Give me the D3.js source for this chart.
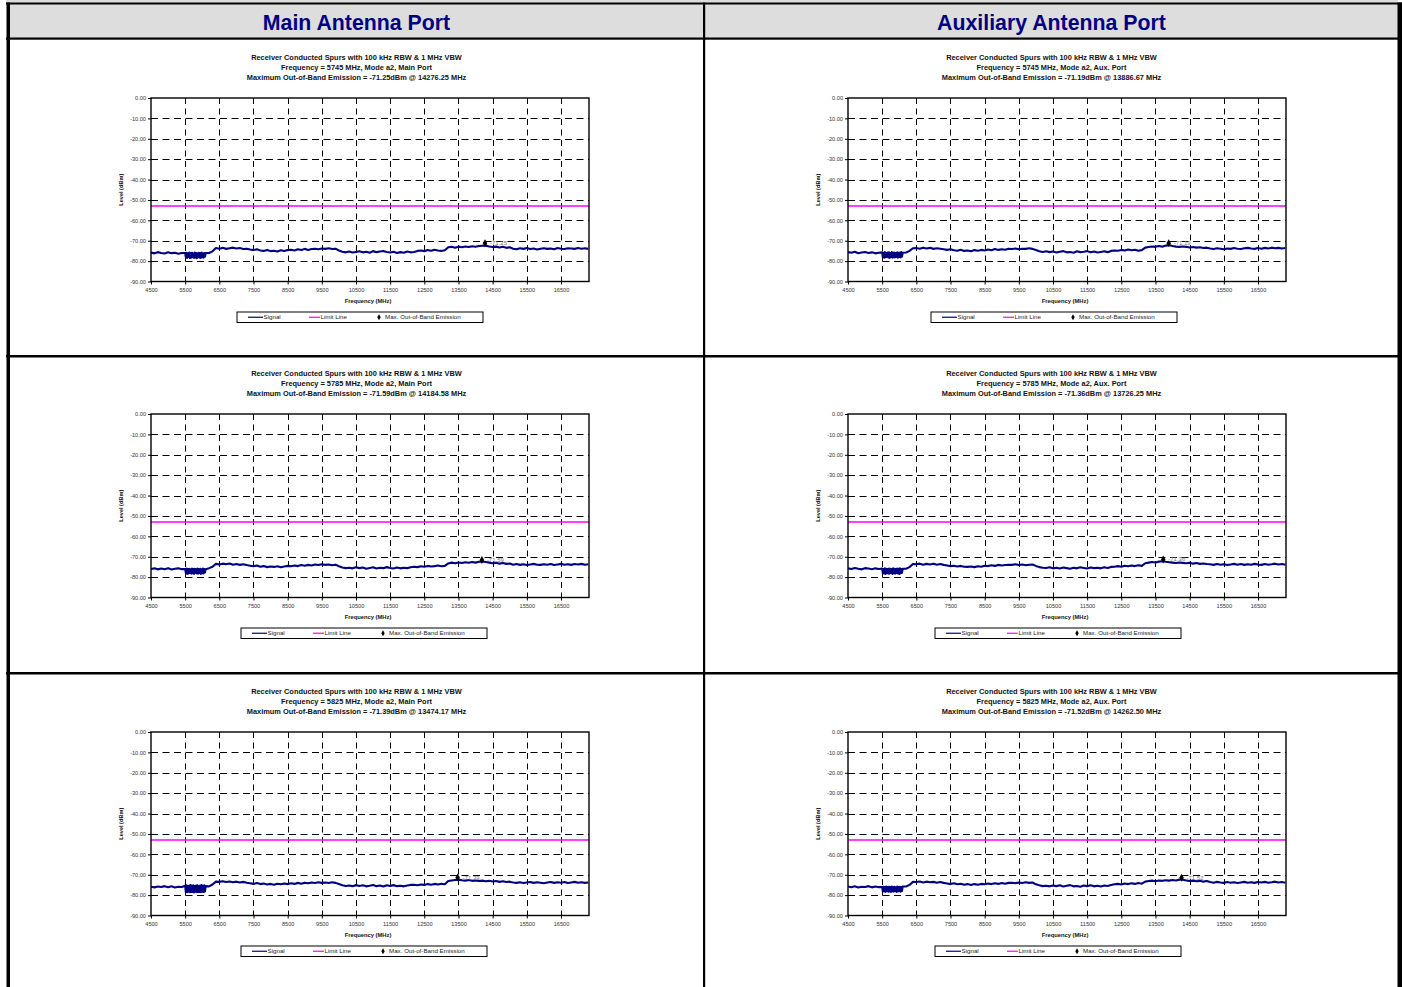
<!DOCTYPE html>
<html>
<head>
<meta charset="utf-8">
<script src="https://cdn.jsdelivr.net/npm/d3@7"></script>
<style>
  html, body { margin: 0; padding: 0; background: #ffffff; }
  svg { display: block; font-family: "Liberation Sans", Arial, sans-serif; }
</style>
</head>
<body>
<svg id="chart" width="1402" height="987"></svg>
<script>
// ---------------- DATA ----------------
const columnHeaders = ["Main Antenna Port", "Auxiliary Antenna Port"];
const channelFreqs = [5745, 5785, 5825];          // rows
const portNames = ["Main Port", "Aux. Port"];     // columns
const chartTitle = "Receiver Conducted Spurs with 100 kHz RBW & 1 MHz VBW";
const modeName = "a2";
const maxEmissionFreqs = [[14276.25, 13886.67], [14184.58, 13726.25], [13474.17, 14262.50]];
const maxEmissionLevels = [[-71.25, -71.19], [-71.59, -71.36], [-71.39, -71.52]];
const limitLevel = -53;
const yTicks = [0, -10, -20, -30, -40, -50, -60, -70, -80, -90];
const xTicks = [4500, 5500, 6500, 7500, 8500, 9500, 10500, 11500, 12500, 13500, 14500, 15500, 16500];
const xDomain = [4500, 17320];
const yDomain = [-90, 0];
const xAxisTitle = "Frequency (MHz)";
const yAxisTitle = "Level (dBm)";
const legendLabels = ["Signal", "Limit Line", "Max. Out-of-Band Emission"];
// sweep frequency grid (MHz): 100 MHz steps, 20 MHz steps in the 5500-6100 MHz band
const lowSweep = d3.range(4500, 5500, 100);
const bandSweep = d3.range(5500, 6120, 20);
const highSweep = d3.range(6200, 17301, 100);
const frequencies = lowSweep.concat(bandSweep, highSweep);

const signalMain5745 = [
  -75.8,-76.2,-75.6,-76.0,-76.3,-75.7,-76.1,-75.9,-76.4,-76.0,
  -76.0,-78.2,-75.9,-78.4,-76.2,-78.0,-75.8,-78.5,-76.1,-78.3,-75.9,-78.1,-76.3,-78.4,-75.8,-78.2,-76.0,-78.6,-76.2,-78.0,-75.9,-78.3,-76.1,-78.4,-75.8,-78.1,-76.2,-78.3,-76.0,-77.8,-76.1,
  -76.0,-75.2,-73.6,
  -73.9,-73.5,-74.0,-73.7,-73.4,-73.8,-73.6,-74.1,-73.9,
  -74.3,-74.6,-74.2,-74.8,-75.0,-74.5,-75.1,
  -74.9,-75.3,-74.7,-75.0,-74.6,
  -74.4,-74.8,-74.2,-74.6,-74.0,-74.5,-74.1,
  -73.9,-74.2,-73.8,-74.0,-73.7,-74.1,-73.9,
  -74.8,-75.4,-75.7,
  -75.3,-75.8,-75.5,-75.2,-75.7,-75.4,-75.9,-75.1,-75.6,-75.3,-75.0,-75.5,-75.8,-75.4,-76.0,-75.6,-75.9,-75.3,-75.7,-75.5,-75.0,
  -74.8,-75.1,-74.6,-74.9,-74.4,-74.8,-75.0,-74.7,
  -73.2,
  -73.0,-73.4,-72.9,-73.2,-72.8,-73.1,-72.7,-73.0,-72.6,-72.5,
  -72.4,
  -72.8,-73.1,-72.9,-73.3,-73.0,-73.5,-73.2,
  -73.9,-74.2,-73.7,-74.0,-73.6,-74.1,-73.8,-74.3,-73.9,-73.7,-74.0,-73.8,-74.2,-73.6,-73.9,-74.1,-73.7,-73.8,-74.0,-73.6,-73.9,-73.7,-74.0
];
const signalAux5745 = [
  -75.6,-75.9,-75.4,-76.1,-75.8,-75.5,-76.0,-75.7,-76.2,-75.9,
  -75.7,-78.0,-75.9,-78.3,-75.6,-78.1,-76.0,-77.9,-75.8,-78.2,-75.7,-78.4,-76.0,-78.0,-75.6,-78.3,-75.9,-78.1,-75.8,-78.2,-76.0,-77.9,-75.7,-78.3,-75.9,-78.0,-75.8,-78.2,-75.6,-77.8,-75.9,
  -75.8,-75.0,-73.7,
  -73.6,-73.9,-73.4,-73.8,-73.5,-74.0,-73.7,-73.9,-74.2,
  -74.5,-74.2,-74.7,-74.9,-74.4,-75.0,-74.8,
  -75.2,-74.6,-74.9,-74.5,-74.8,
  -74.3,-74.7,-74.1,-74.5,-74.2,-74.4,-73.9,
  -74.1,-73.8,-74.2,-73.9,-74.0,-73.7,-74.0,
  -74.6,-75.2,-75.5,
  -75.2,-75.6,-75.3,-75.8,-75.4,-75.1,-75.7,-75.5,-75.9,-75.2,-75.6,-75.4,-75.1,-75.7,-75.3,-75.8,-75.5,-75.2,-75.6,-75.0,-74.8,
  -74.9,-74.5,-74.8,-74.3,-74.7,-74.4,-74.9,-74.6,
  -73.4,
  -73.1,-72.8,-73.0,-72.6,-72.9,-72.4,-72.2,-72.6,-72.9,-73.0,
  -72.8,
  -73.0,-73.3,-73.1,-73.4,-73.2,-73.6,-73.4,
  -73.8,-74.1,-73.7,-73.9,-74.2,-73.8,-74.0,-73.6,-73.9,-74.1,-73.7,-73.5,-73.8,-74.0,-73.6,-73.9,-73.5,-73.8,-73.4,-73.7,-73.5,-73.8,-73.6
];
const signalMain5785 = [
  -76.0,-75.7,-76.2,-75.8,-76.1,-75.6,-76.3,-75.9,-75.7,-76.1,
  -76.0,-77.9,-75.8,-78.4,-76.1,-78.2,-75.9,-78.0,-76.2,-78.3,-75.8,-78.1,-76.0,-78.4,-75.9,-77.9,-76.1,-78.2,-75.8,-78.3,-76.0,-78.0,-75.9,-78.4,-76.2,-78.1,-75.8,-78.2,-76.0,-77.7,-76.1,
  -75.6,-74.9,-73.5,
  -73.8,-73.4,-73.7,-73.3,-73.9,-73.6,-74.0,-73.7,-74.1,
  -74.4,-74.7,-74.3,-74.9,-74.6,-75.1,-74.8,
  -75.0,-74.7,-75.2,-74.8,-74.5,
  -74.7,-74.3,-74.6,-74.1,-74.4,-74.0,-74.3,
  -73.8,-74.1,-73.7,-74.0,-73.8,-74.2,-73.9,
  -74.7,-75.3,-75.6,
  -75.4,-75.7,-75.2,-75.6,-75.3,-75.9,-75.5,-75.2,-75.8,-75.4,-75.6,-75.1,-75.5,-75.8,-75.3,-75.7,-75.4,-75.6,-75.2,-74.9,-75.1,
  -74.7,-74.9,-74.5,-74.8,-74.6,-74.3,-74.7,-74.5,
  -73.3,
  -72.9,-73.2,-72.8,-73.1,-72.7,-73.0,-72.6,-72.9,-72.5,-72.3,
  -72.6,
  -72.9,-73.2,-73.0,-73.4,-73.1,-73.5,-73.3,
  -73.9,-73.6,-74.0,-73.7,-74.1,-73.8,-73.5,-73.9,-74.0,-73.7,-73.9,-73.6,-74.1,-73.8,-73.5,-73.9,-73.7,-74.0,-73.6,-73.8,-73.5,-73.9,-73.7
];
const signalAux5785 = [
  -75.7,-76.0,-75.5,-75.9,-76.2,-75.6,-75.8,-76.1,-75.7,-76.0,
  -75.8,-78.1,-76.0,-78.2,-75.7,-78.4,-75.9,-78.0,-76.1,-78.3,-75.8,-78.2,-75.9,-78.0,-76.0,-78.4,-75.7,-78.1,-75.9,-78.3,-76.0,-78.0,-75.8,-78.2,-75.9,-78.4,-75.7,-78.1,-76.0,-77.9,-75.9,
  -75.9,-75.1,-73.6,
  -73.7,-73.4,-73.9,-73.5,-73.8,-73.4,-73.9,-73.6,-74.0,
  -74.3,-74.6,-74.4,-74.8,-74.5,-74.9,-75.0,
  -74.8,-75.1,-74.7,-74.9,-74.4,
  -74.6,-74.2,-74.5,-74.0,-74.3,-74.1,-73.9,
  -74.0,-73.7,-74.1,-73.8,-74.2,-73.9,-73.8,
  -74.5,-75.1,-75.4,
  -75.5,-75.2,-75.7,-75.4,-75.8,-75.3,-75.6,-75.9,-75.4,-75.7,-75.2,-75.5,-75.8,-75.3,-75.6,-75.4,-75.7,-75.2,-75.5,-75.0,-74.9,
  -74.6,-74.9,-74.4,-74.7,-74.3,-74.6,-74.2,-74.5,
  -73.2,
  -72.9,-72.6,-72.8,-72.4,-72.2,-72.5,-72.7,-72.9,-73.1,-72.8,
  -73.0,
  -73.2,-73.0,-73.4,-73.1,-73.5,-73.3,-73.6,
  -73.7,-74.0,-73.6,-73.9,-73.7,-74.1,-73.8,-73.5,-73.9,-73.6,-74.0,-73.7,-73.9,-73.5,-73.8,-74.0,-73.6,-73.9,-73.7,-73.4,-73.8,-73.6,-73.9
];
const signalMain5825 = [
  -75.9,-76.2,-75.8,-76.0,-75.6,-76.1,-75.7,-76.3,-75.9,-76.0,
  -75.4,-78.5,-75.2,-78.6,-75.5,-78.3,-75.3,-78.6,-75.1,-78.4,-75.4,-78.5,-75.2,-78.7,-75.5,-78.3,-75.3,-78.6,-75.2,-78.4,-75.5,-78.5,-75.3,-78.6,-75.1,-78.3,-75.4,-78.5,-75.2,-78.2,-75.6,
  -75.7,-74.8,-73.4,
  -73.5,-73.2,-73.6,-73.3,-73.7,-73.4,-73.8,-73.5,-73.9,
  -74.2,-74.5,-74.1,-74.6,-74.3,-74.8,-74.5,
  -74.9,-74.4,-74.7,-74.3,-74.6,
  -74.2,-74.5,-74.0,-74.4,-73.9,-74.2,-73.8,
  -74.1,-73.7,-74.0,-73.8,-74.1,-73.7,-74.0,
  -74.6,-75.2,-75.5,
  -75.3,-75.6,-75.1,-75.5,-75.2,-75.7,-75.4,-75.0,-75.6,-75.3,-75.8,-75.2,-75.5,-75.1,-75.6,-75.4,-75.7,-75.3,-75.0,-74.9,-75.2,
  -74.8,-75.0,-74.6,-74.9,-74.5,-74.8,-74.4,-74.7,
  -73.1,
  -72.8,-72.6,-72.4,-72.7,-72.9,-72.6,-73.0,-72.8,-73.1,-72.9,
  -73.2,
  -73.0,-73.3,-73.1,-73.5,-73.2,-73.6,-73.4,
  -73.8,-74.0,-73.7,-74.1,-73.8,-73.6,-74.0,-73.7,-73.9,-74.2,-73.8,-73.6,-74.0,-73.7,-73.9,-73.6,-74.1,-73.8,-73.5,-73.9,-73.7,-74.0,-73.8
];
const signalAux5825 = [
  -75.8,-76.1,-75.7,-76.3,-75.9,-76.0,-75.6,-76.2,-75.8,-76.1,
  -76.0,-78.3,-75.9,-78.1,-76.1,-78.4,-75.8,-78.0,-76.0,-78.3,-75.9,-78.2,-76.1,-78.4,-75.8,-78.1,-76.0,-78.3,-75.9,-78.0,-76.2,-78.4,-75.8,-78.2,-76.0,-78.1,-75.9,-78.3,-76.1,-78.0,-75.8,
  -75.8,-75.0,-73.5,
  -73.6,-73.3,-73.8,-73.4,-73.7,-73.5,-73.9,-73.6,-74.0,
  -74.3,-74.6,-74.2,-74.7,-74.4,-74.9,-74.6,
  -75.0,-74.6,-74.9,-74.5,-74.7,
  -74.3,-74.6,-74.2,-74.5,-74.1,-74.4,-74.0,
  -73.9,-74.2,-73.8,-74.1,-73.7,-74.0,-73.8,
  -74.7,-75.2,-75.6,
  -75.4,-75.7,-75.3,-75.6,-75.2,-75.8,-75.4,-75.1,-75.7,-75.5,-75.9,-75.3,-75.6,-75.2,-75.7,-75.4,-75.8,-75.3,-75.5,-75.0,-74.7,
  -74.5,-74.8,-74.3,-74.6,-74.2,-74.5,-74.1,-74.4,
  -73.4,
  -73.1,-72.9,-73.2,-72.8,-73.0,-72.7,-72.9,-72.6,-72.8,-72.4,
  -72.5,
  -72.8,-73.1,-72.9,-73.2,-73.0,-73.4,-73.1,
  -73.6,-73.9,-73.5,-73.8,-74.0,-73.6,-73.9,-73.7,-74.1,-73.8,-73.5,-73.9,-73.7,-74.0,-73.6,-73.8,-73.5,-73.9,-73.7,-73.4,-73.8,-73.6,-73.9
];
const signals = [[signalMain5745, signalAux5745], [signalMain5785, signalAux5785], [signalMain5825, signalAux5825]];

// ---------------- LAYOUT ----------------
const svg = d3.select("#chart");
const colX = [[10, 703], [705, 1398]];
const plotLeft = [151, 848];
const plotTop = [98, 414, 732];
const plotW = 438, plotH = 183.5;
const legendOffset = [[86, 83], [90, 87], [90, 87]];

// header + table frame
svg.append("rect").attr("x", 6).attr("y", 0).attr("width", 1392).attr("height", 3).attr("fill", "#dcdcdc");
svg.append("rect").attr("x", 10).attr("y", 4).attr("width", 1388).attr("height", 34).attr("fill", "#dddddd");
columnHeaders.forEach((h, c) => {
  svg.append("text")
    .attr("x", (colX[c][0] + colX[c][1]) / 2).attr("y", 30)
    .attr("text-anchor", "middle")
    .attr("font-size", 21.3).attr("font-weight", "bold").attr("fill", "#000080")
    .text(h);
});
const frame = svg.append("g").attr("fill", "#000");
frame.append("rect").attr("x", 6).attr("y", 2.5).attr("width", 1396).attr("height", 2);
frame.append("rect").attr("x", 6).attr("y", 37.5).attr("width", 1396).attr("height", 2.2);
frame.append("rect").attr("x", 6.5).attr("y", 2.5).attr("width", 3.5).attr("height", 985);
frame.append("rect").attr("x", 1397.5).attr("y", 2.5).attr("width", 4.5).attr("height", 985);
frame.append("rect").attr("x", 703).attr("y", 2.5).attr("width", 2.2).attr("height", 985);
frame.append("rect").attr("x", 6).attr("y", 355).attr("width", 1396).attr("height", 2.5);
frame.append("rect").attr("x", 6).attr("y", 672).attr("width", 1396).attr("height", 2.5);

const fmt2 = v => (+v).toFixed(2);

channelFreqs.forEach((ch, r) => {
  portNames.forEach((port, c) => {
    const x0 = plotLeft[c], y0 = plotTop[r];
    const g = svg.append("g");
    const x = d3.scaleLinear().domain(xDomain).range([x0, x0 + plotW]);
    const y = d3.scaleLinear().domain(yDomain).range([y0 + plotH, y0]);
    const cx = (colX[c][0] + colX[c][1]) / 2;

    // titles
    const lines = [
      chartTitle,
      `Frequency = ${ch} MHz, Mode ${modeName}, ${port}`,
      `Maximum Out-of-Band Emission = ${fmt2(maxEmissionLevels[r][c])}dBm @ ${fmt2(maxEmissionFreqs[r][c])} MHz`
    ];
    lines.forEach((t, i) => {
      g.append("text").attr("x", cx).attr("y", y0 - 38.5 + i * 10)
        .attr("text-anchor", "middle").attr("font-size", 7.4).attr("font-weight", "bold")
        .attr("fill", "#111").text(t);
    });

    // gridlines
    g.append("g").selectAll("line").data(yTicks.filter(v => v !== 0 && v !== -90)).join("line")
      .attr("x1", x0).attr("x2", x0 + plotW)
      .attr("y1", d => Math.round(y(d)) + 0.5).attr("y2", d => Math.round(y(d)) + 0.5)
      .attr("stroke", "#000").attr("stroke-width", 1).attr("stroke-dasharray", "7,4.5");
    g.append("g").selectAll("line").data(xTicks.filter(v => v !== 4500)).join("line")
      .attr("x1", d => Math.round(x(d)) + 0.5).attr("x2", d => Math.round(x(d)) + 0.5)
      .attr("y1", y0).attr("y2", y0 + plotH)
      .attr("stroke", "#000").attr("stroke-width", 1).attr("stroke-dasharray", "6,4.5");

    // axes
    const yAxis = d3.axisLeft(y).tickValues(yTicks).tickFormat(fmt2).tickSize(3).tickPadding(2);
    const xAxis = d3.axisBottom(x).tickValues(xTicks).tickFormat(d => String(d)).tickSize(3).tickPadding(4);
    const ya = g.append("g").attr("transform", `translate(${x0},0)`).call(yAxis);
    const xa = g.append("g").attr("transform", `translate(0,${y0 + plotH})`).call(xAxis);
    [ya, xa].forEach(a => {
      a.select(".domain").remove();
      a.selectAll("text").attr("font-size", 5.6).attr("fill", "#333").attr("font-family", "Liberation Sans, Arial, sans-serif");
      a.selectAll("line").attr("stroke", "#000");
    });

    // limit line
    g.append("line").attr("x1", x0).attr("x2", x0 + plotW)
      .attr("y1", y(limitLevel)).attr("y2", y(limitLevel))
      .attr("stroke", "#ff00ff").attr("stroke-width", 1.4);

    // signal
    const clipId = `clip-${r}-${c}`;
    g.append("clipPath").attr("id", clipId).append("rect")
      .attr("x", x0).attr("y", y0).attr("width", plotW).attr("height", plotH);
    const line = d3.line().x((d, i) => x(frequencies[i])).y(d => y(d));
    g.append("path").datum(signals[r][c]).attr("clip-path", `url(#${clipId})`)
      .attr("d", line).attr("fill", "none").attr("stroke", "#000080")
      .attr("stroke-width", 2.1).attr("stroke-linejoin", "round");

    // max marker
    const mx = x(maxEmissionFreqs[r][c]), my = y(maxEmissionLevels[r][c]);
    g.append("path").attr("d", d3.symbol(d3.symbolDiamond, 18)())
      .attr("transform", `translate(${mx},${my})`).attr("fill", "#000");
    g.append("text").attr("x", mx + 5).attr("y", my + 2)
      .attr("font-size", 6).attr("fill", "#777").text(fmt2(maxEmissionLevels[r][c]));

    // plot frame
    g.append("rect").attr("x", x0).attr("y", y0).attr("width", plotW).attr("height", plotH)
      .attr("fill", "none").attr("stroke", "#000").attr("stroke-width", 1.4);

    // axis titles
    g.append("text").attr("x", x0 + plotW / 2 - 2).attr("y", y0 + plotH + 21.5)
      .attr("text-anchor", "middle").attr("font-size", 5.8).attr("font-weight", "bold")
      .attr("fill", "#111").text(xAxisTitle);
    g.append("text").attr("transform", `translate(${x0 - 28},${y0 + plotH / 2}) rotate(-90)`)
      .attr("text-anchor", "middle").attr("font-size", 5.6).attr("font-weight", "bold")
      .attr("fill", "#111").text(yAxisTitle);

    // legend
    const lx = x0 + legendOffset[r][c], ly = y0 + plotH + 30.5;
    const lg = g.append("g").attr("transform", `translate(${lx},${ly})`);
    lg.append("rect").attr("width", 246).attr("height", 10.5).attr("fill", "#fff")
      .attr("stroke", "#000").attr("stroke-width", 1);
    lg.append("line").attr("x1", 11).attr("x2", 26).attr("y1", 5.25).attr("y2", 5.25)
      .attr("stroke", "#000080").attr("stroke-width", 1.2);
    lg.append("line").attr("x1", 72).attr("x2", 83).attr("y1", 5.25).attr("y2", 5.25)
      .attr("stroke", "#ff00ff").attr("stroke-width", 1.2);
    lg.append("path").attr("d", d3.symbol(d3.symbolDiamond, 10)())
      .attr("transform", "translate(142,5.25)").attr("fill", "#000");
    [[26.5, legendLabels[0]], [83.5, legendLabels[1]], [148, legendLabels[2]]].forEach(([tx, t]) => {
      lg.append("text").attr("x", tx).attr("y", 7.4).attr("font-size", 6.2).attr("fill", "#222").text(t);
    });
  });
});
</script>
</body>
</html>
